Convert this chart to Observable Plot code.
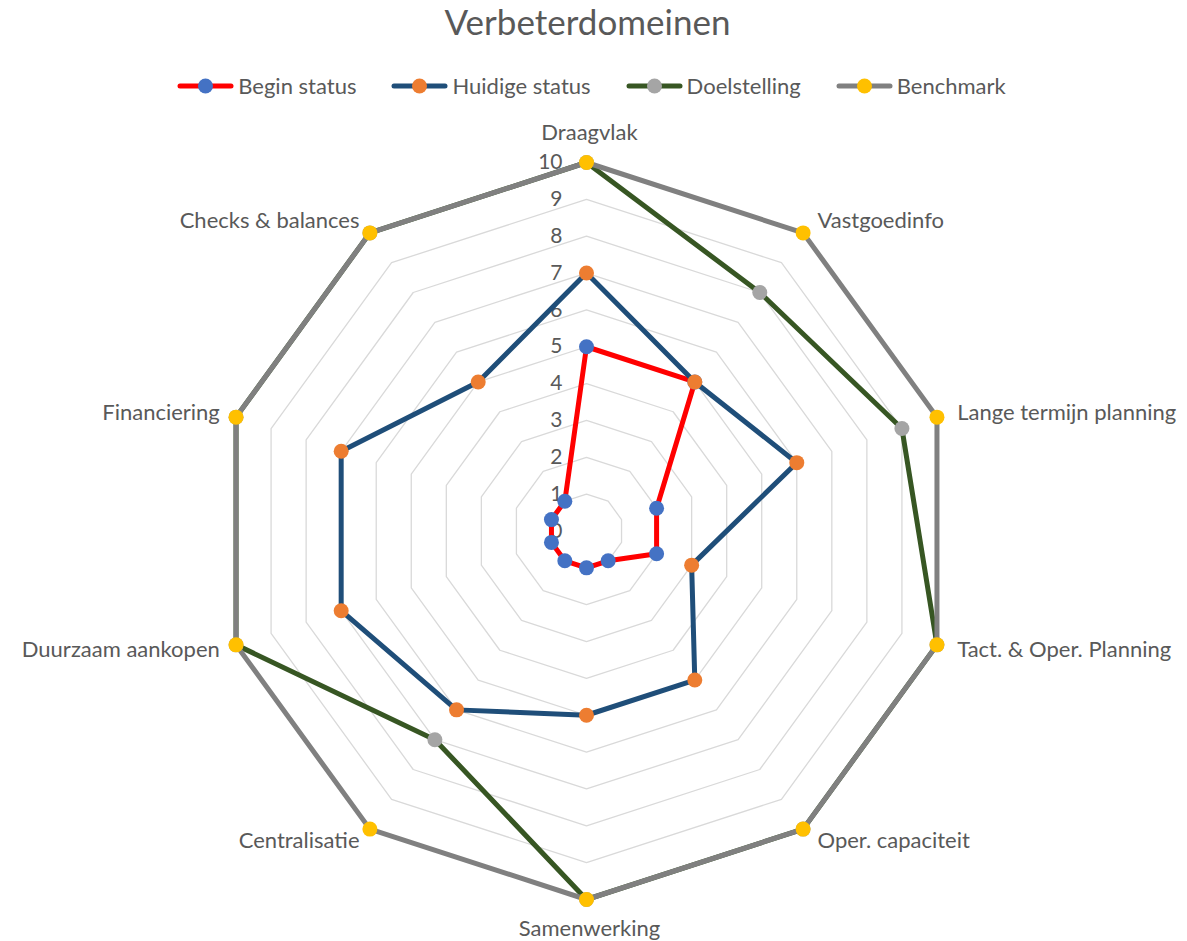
<!DOCTYPE html>
<html>
<head>
<meta charset="utf-8">
<script src="https://cdn.jsdelivr.net/npm/d3@7"></script>
<script src="https://cdn.jsdelivr.net/npm/@observablehq/plot@0.6"></script>
<style>
  html, body { margin: 0; padding: 0; background: #ffffff; }
  body { font-family: Lato, "Open Sans", sans-serif; color: #595959; }
  #wrap { position: relative; width: 1187px; }
  #header { position: relative; width: 1187px; height: 110px; }
  #title { position: absolute; left: 0; width: 1187px; top: 1px; text-align: center; font-size: 35px; line-height: 40px; padding-right: 12px; box-sizing: border-box; }
  #legend { position: absolute; left: 0; width: 1187px; top: 74px; height: 24px; display: flex; justify-content: center; align-items: center; gap: 35px; padding-right: 4px; box-sizing: border-box; }
  .item { display: flex; align-items: center; gap: 4px; font-size: 22px; line-height: 24px; }
  .item svg { display: block; }
  #chart svg { display: block; }
</style>
</head>
<body>
<div id="wrap">
  <div id="header">
    <div id="title"></div>
    <div id="legend"></div>
  </div>
  <div id="chart"></div>
</div>
<script>
// ---- data ----
const titleText = "Verbeterdomeinen";
const axes = ["Draagvlak", "Vastgoedinfo", "Lange termijn planning", "Tact. & Oper. Planning", "Oper. capaciteit", "Samenwerking", "Centralisatie", "Duurzaam aankopen", "Financiering", "Checks & balances"];
const seriesNames = ["Begin status", "Huidige status", "Doelstelling", "Benchmark"];
const beginStatus = [5, 5, 2, 2, 1, 1, 1, 1, 1, 1];
const huidigeStatus = [7, 5, 6, 3, 5, 5, 6, 7, 7, 5];
const doelstelling = [10, 8, 9, 10, 10, 10, 7, 10, 10, 10];
const benchmark = [10, 10, 10, 10, 10, 10, 10, 10, 10, 10];
const tickValues = [0, 1, 2, 3, 4, 5, 6, 7, 8, 9, 10];
const lineColors = ["#FF0000", "#1F4E79", "#375623", "#808080"];
const markerColors = ["#4472C4", "#ED7D31", "#A5A5A5", "#FFC000"];

const seriesValues = [beginStatus, huidigeStatus, doelstelling, benchmark];

// ---- layout ----
const W = 1187, H = 831;
const cx = 586, cy = 420.5, R = 368.5, maxV = 10;
const k = R / maxV;
const n = axes.length;
const ang = i => (2 * Math.PI * i) / n;
const px = (v, i) => v * Math.sin(ang(i));
const py = (v, i) => v * Math.cos(ang(i));

// ---- title & legend ----
document.getElementById("title").textContent = titleText;
const legend = document.getElementById("legend");
seriesNames.forEach((name, s) => {
  const item = document.createElement("div");
  item.className = "item";
  item.innerHTML = `<svg width="57" height="18"><line x1="3" y1="9" x2="54" y2="9" stroke="${lineColors[s]}" stroke-width="5" stroke-linecap="round"/><circle cx="28.5" cy="9" r="7.5" fill="${markerColors[s]}"/></svg><span>${name}</span>`;
  legend.appendChild(item);
});

// ---- chart ----
const rings = [];
for (let r = 1; r <= maxV; r++) {
  axes.forEach((a, i) => rings.push({ r, x: px(r, i), y: py(r, i) }));
}

const seriesMarks = [];
seriesValues.forEach((vals, s) => {
  const pts = vals.map((v, i) => ({ x: px(v, i), y: py(v, i), v, axis: axes[i] }));
  seriesMarks.push(Plot.line(pts, { x: "x", y: "y", curve: "linear-closed", stroke: lineColors[s], strokeWidth: 5, strokeLinejoin: "round" }));
  seriesMarks.push(Plot.dot(pts, { x: "x", y: "y", r: 7.5, fill: markerColors[s], stroke: "none" }));
});

const labelMarks = axes.map((a, i) => {
  const s = Math.sin(ang(i)), c = Math.cos(ang(i));
  let dx, dy, anchor;
  if (Math.abs(s) < 1e-6) {
    dx = 3; dy = c > 0 ? -30 : 29; anchor = "middle";
  } else if (s > 0) {
    dx = Math.abs(s) * 16 + 5; dy = -c * 15; anchor = "start";
  } else {
    dx = -(Math.abs(s) * 16 + 1); dy = -c * 15; anchor = "end";
  }
  return Plot.text([a], { x: () => px(maxV, i), y: () => py(maxV, i), text: d => d, dx, dy, textAnchor: anchor, fill: "#595959", fontSize: 22 });
});

const chart = Plot.plot({
  width: W,
  height: H,
  margin: 0,
  x: { domain: [-cx / k, (W - cx) / k], range: [0, W], axis: null },
  y: { domain: [-(H - cy) / k, cy / k], range: [H, 0], axis: null },
  style: { fontFamily: "Lato, 'Open Sans', sans-serif", background: "#ffffff", overflow: "visible" },
  marks: [
    Plot.line(rings, { x: "x", y: "y", z: "r", curve: "linear-closed", stroke: "#D9D9D9", strokeWidth: 1.3 }),
    Plot.text(tickValues, { x: 0, y: d => d, text: d => String(d), textAnchor: "end", dx: -24, fill: "#595959", fontSize: 21 }),
    ...seriesMarks,
    ...labelMarks
  ]
});
document.getElementById("chart").appendChild(chart);
</script>
</body>
</html>
